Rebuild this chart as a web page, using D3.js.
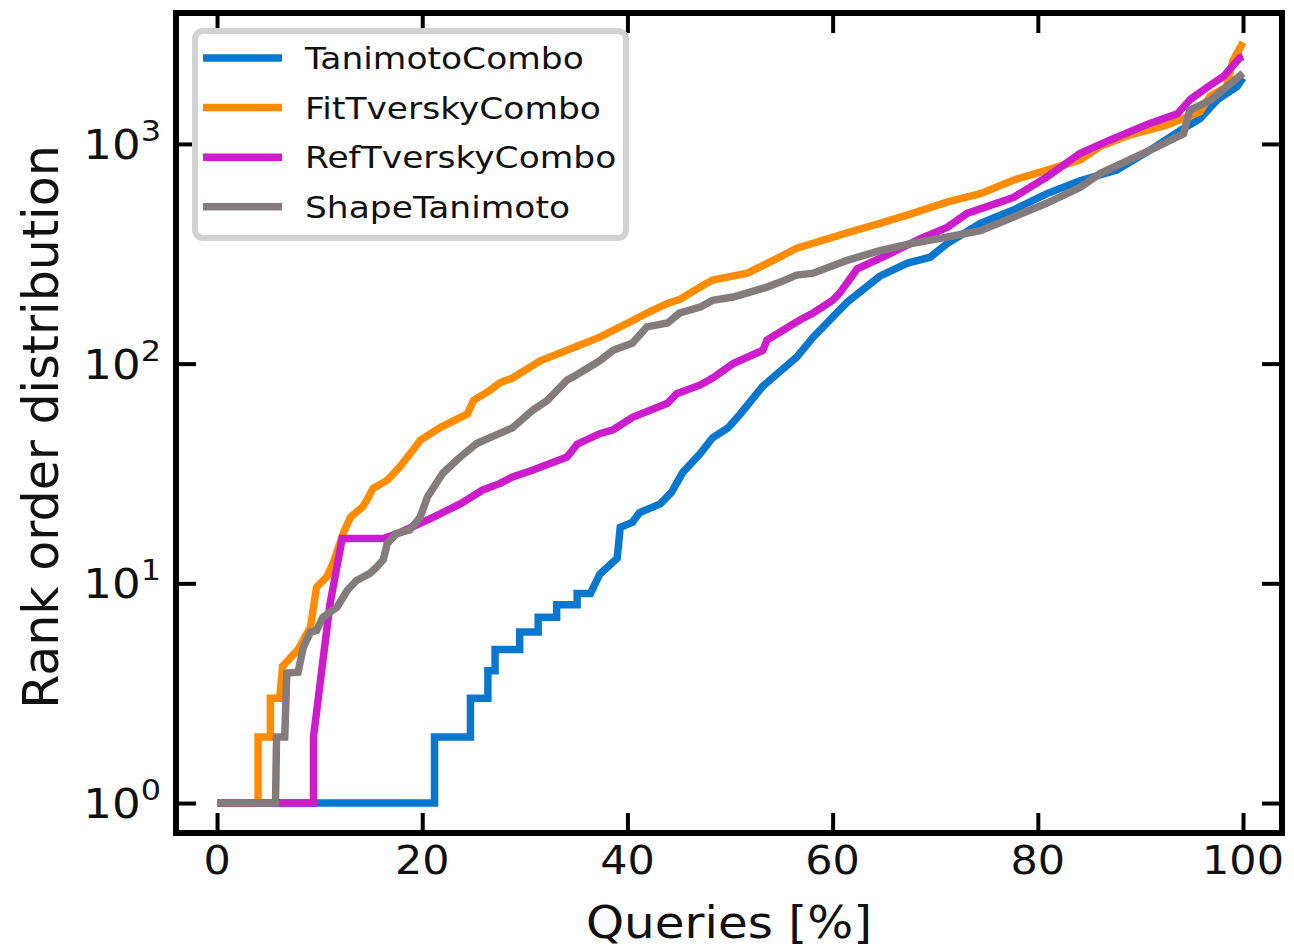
<!DOCTYPE html>
<html><head><meta charset="utf-8">
<script src="https://cdn.jsdelivr.net/npm/d3@7"></script>
<style>body{margin:0;background:#fff}svg{display:block}text{font-family:"DejaVu Sans",sans-serif;fill:#111}</style>
</head><body><svg id="c" width="1294" height="949"></svg>
<script>
const seriesNames = ["TanimotoCombo","FitTverskyCombo","RefTverskyCombo","ShapeTanimoto"];
const seriesColors = ["#0a77cf","#ff8c00","#cc1ccc","#847b7d"];
const xTicks = [0,20,40,60,80,100];
const yTicks = [1,10,100,1000];
const yTickExp = ["0","1","2","3"];
const xLabel = "Queries [%]";
const yLabel = "Rank order distribution";

const tanimotoCombo = [[0,1],[21.2,1],[21.2,2],[24.7,2],[24.7,3],[26.4,3],[26.4,4],[27.1,4],[27.1,5],[29.5,5],[29.5,6],[31.3,6],[31.3,7],[33.1,7],[33.1,8],[35.1,8],[35.1,9],[36.4,9],[37.3,11],[39.0,13],[39.3,18],[40.5,19],[41.2,21],[43.2,23],[44.3,26],[45.4,32],[47.1,39],[48.3,46],[49.8,51],[51.0,59],[53.2,79],[56.5,107],[58.1,132],[61.4,190],[64.6,250],[67.3,287],[69.5,305],[71.2,353],[74.4,435],[77.6,500],[80.9,594],[84.1,680],[87.7,760],[90.9,935],[94.2,1175],[95.8,1300],[97.5,1590],[99.4,1820],[100,2000]];
const fitTverskyCombo = [[0,1],[4.0,1],[4.0,2],[5.2,2],[5.2,3],[6.1,3],[6.4,4.2],[7.9,5],[9.1,6.3],[9.7,9.6],[10.7,10.7],[11.3,12.3],[12.3,16.9],[13.0,20],[14.2,22.3],[14.6,23.9],[15.2,27],[16.6,29.5],[17.8,33.8],[19.1,40.4],[19.8,44.8],[21.7,51],[24.4,59],[25.0,68],[26.6,75.6],[27.6,82],[28.8,86],[31.5,103],[34.1,115],[37.3,132],[40.5,157],[41.9,170],[43.9,188],[45.1,196],[47.1,223],[48.3,240],[51.7,258],[54.2,295],[56.5,335],[58.1,353],[61.4,394],[64.6,435],[67.8,483],[71.2,545],[74.4,594],[77.6,684],[80.9,760],[84.1,845],[86.1,975],[89.0,1100],[92.6,1220],[95.8,1400],[96.8,1650],[98.4,1820],[99.0,2380],[100,2900]];
const refTverskyCombo = [[0,1],[9.4,1],[9.4,2],[10.2,4],[11.0,8],[12.2,16],[16.2,16],[17.8,17],[21.1,20],[23.7,23],[25.9,26.6],[27.6,28.5],[28.8,30.5],[30.8,32.8],[34.1,37.6],[34.4,39],[35.1,43],[37.3,48],[38.6,50],[40.5,57],[43.9,66],[44.8,73],[47.1,80],[48.3,86],[50.3,100],[53.2,115],[53.6,128],[56.8,158],[58.1,170],[60.0,194],[60.7,210],[62.4,270],[65.6,317],[68.5,370],[71.2,418],[73.1,483],[77.6,570],[80.9,708],[84.1,905],[87.0,1040],[90.9,1240],[93.6,1370],[94.9,1600],[96.8,1850],[98.1,2030],[99.7,2470],[100,2500]];
const shapeTanimoto = [[0,1],[5.7,1],[5.8,2],[6.6,2],[6.8,3.9],[7.9,3.95],[8.4,5.1],[9.1,6.0],[9.7,6.1],[10.3,7.0],[11.7,7.8],[12.7,9.3],[13.6,10.3],[14.9,11.1],[15.6,11.9],[16.2,12.8],[16.6,15.2],[17.5,16.9],[18.8,17.5],[19.8,20],[20.5,24.7],[22.0,31.7],[23.7,37.6],[25.3,43.3],[27.6,48.3],[28.8,51],[30.8,61.5],[32.2,68],[34.1,84],[34.7,87],[37.3,103],[38.6,115],[40.5,124],[41.9,147],[43.9,153],[45.1,170],[47.1,181],[48.3,194],[50.3,201],[51.7,210],[53.6,223],[54.9,235],[56.5,253],[58.1,258],[61.4,295],[64.6,327],[67.8,353],[71.2,377],[74.4,403],[77.6,464],[80.9,538],[84.1,634],[86.1,735],[90.9,935],[94.2,1110],[94.8,1420],[96.8,1580],[98.4,1820],[100,2100]];
const allSeries = [tanimotoCombo, fitTverskyCombo, refTverskyCombo, shapeTanimoto];

const svg = d3.select("#c");
const L = 176, R = 1282, T = 13, B = 833;
const x = d3.scaleLinear().domain([-4, 103.8]).range([L, R]);
const y = d3.scaleLog().domain([0.7305, 3944]).range([B, T]);
const SX = 1.1;

const plot = svg.append("g");
plot.append("clipPath").attr("id","clip").append("rect").attr("x",L).attr("y",T).attr("width",R-L).attr("height",B-T);
const line = d3.line().x(d=>x(d[0])).y(d=>y(d[1]));
allSeries.forEach((s,i)=>{
  plot.append("path").attr("d", line(s)).attr("fill","none").attr("stroke", seriesColors[i])
    .attr("stroke-width",7.5).attr("stroke-linejoin","miter").attr("stroke-linecap","butt").attr("clip-path","url(#clip)");
});

// ticks (inward, all sides)
const tk = 20;
svg.append("g").attr("transform",`translate(0,${B})`).call(d3.axisBottom(x).tickValues(xTicks).tickSize(-tk).tickFormat(""));
svg.append("g").attr("transform",`translate(0,${T})`).call(d3.axisTop(x).tickValues(xTicks).tickSize(-tk).tickFormat(""));
svg.append("g").attr("transform",`translate(${L},0)`).call(d3.axisLeft(y).tickValues(yTicks).tickSize(-tk).tickFormat(""));
svg.append("g").attr("transform",`translate(${R},0)`).call(d3.axisRight(y).tickValues(yTicks).tickSize(-tk).tickFormat(""));
svg.selectAll(".domain").remove();
svg.selectAll(".tick line").attr("stroke","#000").attr("stroke-width",4);

// frame
svg.append("rect").attr("x",L).attr("y",T).attr("width",R-L).attr("height",B-T).attr("fill","none").attr("stroke","#000").attr("stroke-width",6);

// x tick labels
xTicks.forEach(v=>{
  svg.append("g").attr("transform",`translate(${x(v)},${B+41}) scale(${SX},1)`)
    .append("text").attr("text-anchor","middle").attr("font-size",39).text(v);
});
// y tick labels
yTicks.forEach((v,i)=>{
  const t = svg.append("g").attr("transform",`translate(${L-15},${y(v)+15}) scale(${SX},1)`)
    .append("text").attr("text-anchor","end").attr("font-size",41);
  t.append("tspan").text("10");
  t.append("tspan").attr("font-size",29).attr("dy",-18).text(yTickExp[i]);
});
// axis labels
svg.append("g").attr("transform",`translate(${(L+R)/2},${938}) scale(${SX},1)`)
  .append("text").attr("text-anchor","middle").attr("font-size",44).text(xLabel);
svg.append("g").attr("transform",`translate(${58},${(T+B)/2+4}) rotate(-90)`)
  .append("text").attr("text-anchor","middle").attr("font-size",49).text(yLabel);

// legend
const lg = svg.append("g");
lg.append("rect").attr("x",195).attr("y",31).attr("width",431).attr("height",207).attr("rx",8)
  .attr("fill","#fff").attr("fill-opacity",0.85).attr("stroke","#d2d2d2").attr("stroke-width",6);
seriesNames.forEach((n,i)=>{
  const yy = 58 + i*49.6;
  lg.append("line").attr("x1",203).attr("x2",282).attr("y1",yy).attr("y2",yy).attr("stroke",seriesColors[i]).attr("stroke-width",7.5);
  lg.append("g").attr("transform",`translate(305,${yy+11}) scale(1.13,1)`)
    .append("text").attr("font-size",30.5).text(n);
});
</script></body></html>
